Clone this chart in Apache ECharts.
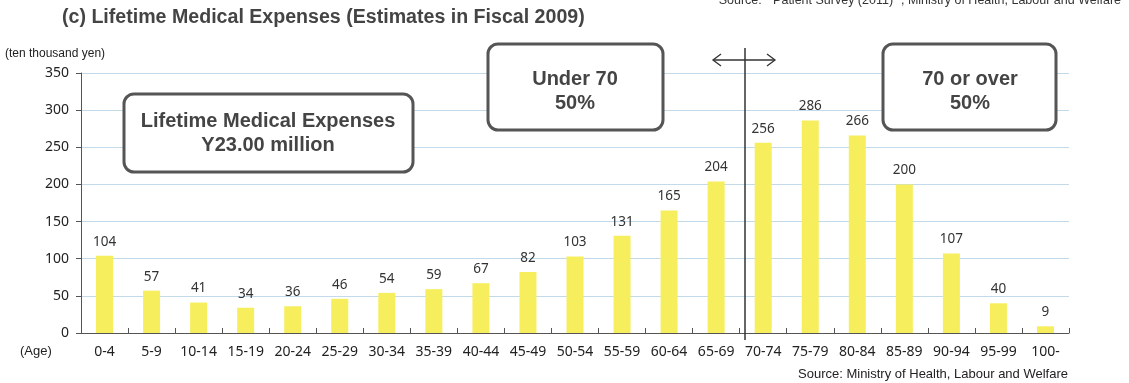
<!DOCTYPE html>
<html><head><meta charset="utf-8">
<script src="https://cdn.jsdelivr.net/npm/echarts@6/dist/echarts.min.js"></script>
<style>html,body{margin:0;padding:0;background:#fff}#c{width:1129px;height:383px}</style>
</head><body><div id="c"></div>
<script>
const categories = ['0-4','5-9','10-14','15-19','20-24','25-29','30-34','35-39','40-44','45-49','50-54','55-59','60-64','65-69','70-74','75-79','80-84','85-89','90-94','95-99','100-'];
const expenses = [104,57,41,34,36,46,54,59,67,82,103,131,165,204,256,286,266,200,107,40,9];
const yTicks = [0,50,100,150,200,250,300,350];

const chart = echarts.init(document.getElementById('c'), null, {renderer:'canvas'});
const boxStyle = {fill:'#fff', stroke:'#555', lineWidth:3};
const boxText = {fill:'#444', font:'bold 20px "Liberation Sans", Arial, sans-serif', align:'center', verticalAlign:'middle', lineHeight:24};
chart.setOption({
  animation:false,
  backgroundColor:'#fff',
  grid:{left:81, right:60, top:73, bottom:50, containLabel:false},
  xAxis:{type:'category', data:categories, boundaryGap:true,
    axisLine:{lineStyle:{color:'#555', width:1}},
    axisTick:{show:true, interval:0, length:5, inside:true, lineStyle:{color:'#555'}},
    axisLabel:{interval:0, color:'#222', fontSize:14, fontFamily:'"Noto Sans", sans-serif', margin:12}},
  yAxis:{type:'value', min:yTicks[0], max:yTicks[yTicks.length-1], interval:50,
    axisLine:{show:true, lineStyle:{color:'#555'}},
    axisTick:{show:true, length:5, lineStyle:{color:'#555'}},
    axisLabel:{color:'#222', fontSize:14, fontFamily:'"Noto Sans", sans-serif', margin:12},
    splitLine:{lineStyle:{color:'#C3DAEA', width:1}}},
  series:[{type:'bar', data:expenses, barWidth:17, itemStyle:{color:'#F6EE5C'},
    label:{show:true, position:'top', distance:7, color:'#333', fontSize:13.5, fontFamily:'"Noto Sans", sans-serif'}}],
  graphic:[
    {type:'text', left:62, top:8, style:{text:'(c) Lifetime Medical Expenses (Estimates in Fiscal 2009)', fill:'#444', font:'bold 19.6px "Liberation Sans", Arial, sans-serif'}},
    {type:'text', right:8, top:-6, style:{text:'Source:  "Patient Survey (2011)" , Ministry of Health, Labour and Welfare', fill:'#333', font:'12.5px "Liberation Sans", Arial, sans-serif'}},
    {type:'text', left:5, top:48, style:{text:'(ten thousand yen)', fill:'#222', font:'12px "Liberation Sans", Arial, sans-serif'}},
    {type:'text', left:20, top:345, style:{text:'(Age)', fill:'#222', font:'13px "Liberation Sans", Arial, sans-serif'}},
    {type:'text', right:61, top:368, style:{text:'Source: Ministry of Health, Labour and Welfare', fill:'#222', font:'13px "Liberation Sans", Arial, sans-serif'}},
    {type:'rect', shape:{x:124, y:94, width:289, height:78, r:10}, style:boxStyle, z:10},
    {type:'text', x:268, y:133, style:Object.assign({text:'Lifetime Medical Expenses\nY23.00 million'}, boxText), z:11},
    {type:'rect', shape:{x:488, y:44, width:175, height:86, r:10}, style:boxStyle, z:10},
    {type:'text', x:575, y:91, style:Object.assign({text:'Under 70\n50%'}, boxText), z:11},
    {type:'rect', shape:{x:883, y:44, width:173, height:86, r:10}, style:boxStyle, z:10},
    {type:'text', x:970, y:91, style:Object.assign({text:'70 or over\n50%'}, boxText), z:11},
    {type:'line', shape:{x1:745, y1:48, x2:745, y2:340}, style:{stroke:'#333', lineWidth:1.5}, z:12},
    {type:'line', shape:{x1:713, y1:60, x2:775, y2:60}, style:{stroke:'#333', lineWidth:1.3}, z:12},
    {type:'polyline', shape:{points:[[721,54],[713,60],[721,66]]}, style:{stroke:'#333', lineWidth:1.3, fill:null}, z:12},
    {type:'polyline', shape:{points:[[767,54],[775,60],[767,66]]}, style:{stroke:'#333', lineWidth:1.3, fill:null}, z:12}
  ]
});
</script></body></html>
